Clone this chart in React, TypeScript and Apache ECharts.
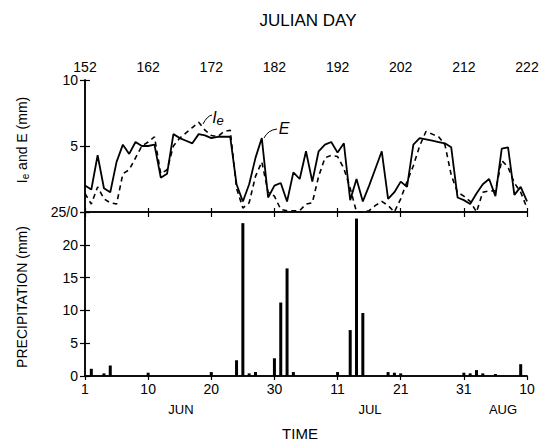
import React, { useEffect, useRef } from "react";
import * as echarts from "echarts";

const JULIAN_START = 152;
const TOP_TICK_LABELS = ["152", "162", "172", "182", "192", "202", "212", "222"];
const BOTTOM_TICK_LABELS = ["1", "10", "20", "30", "11", "21", "31", "10"];
const MONTH_LABELS = ["JUN", "JUL", "AUG"];

// E (solid), days 152..222
const E_VALUES = [
  2.0, 1.7, 4.3, 1.8, 1.5, 3.8, 5.1, 4.4, 5.3, 5.0,
  5.0, 5.1, 2.6, 2.9, 5.9, 5.6, 5.4, 5.2, 5.9, 5.8,
  5.6, 5.7, 5.7, 5.7, 2.1, 0.8, 2.1, 4.1, 5.6, 1.1,
  2.0, 2.2, 0.8, 3.0, 2.5, 4.6, 2.3, 4.6, 5.1, 5.3,
  4.5, 5.2, 0.9, 2.5, 0.8, 2.0, 3.3, 4.6, 1.0, 1.5,
  2.3, 1.9, 5.1, 5.6, 5.5, 5.4, 5.3, 5.2, 4.9, 1.1,
  0.9, 0.6, 1.4, 2.1, 2.5, 1.2, 4.8, 4.9, 1.3, 1.9,
  0.8,
];

// Ie (dashed), days 152..222
const IE_VALUES = [
  1.4, 0.6, 1.9, 1.0, 0.7, 0.6, 2.9, 3.2, 4.1, 5.0,
  5.3, 5.7, 2.9, 3.2, 5.0, 5.6, 6.0, 6.4, 6.8, 6.2,
  5.8, 5.7, 6.1, 6.2, 1.8, 0.3, 0.7, 2.7, 3.8, 1.5,
  1.2, 0.2, 0.1, 0.1, 0.1, 0.6, 0.7, 2.7, 4.1, 4.3,
  4.2, 3.3, 1.8, 0.0, 0.0, 0.1, 0.5, 0.8, 0.5, 0.0,
  1.0, 2.3, 3.5, 5.0, 6.1, 5.9, 5.7, 5.1, 2.8, 1.5,
  1.2, 0.8, 0.0, 1.5, 1.6, 1.6, 3.9, 3.4, 2.2, 1.5,
  0.3,
];

const PRECIP_DAYS = [153, 155, 156, 162, 172, 176, 177, 178, 179, 182, 183, 184, 185, 192, 194, 195, 196, 200, 201, 202, 212, 213, 214, 215, 217, 221];
const PRECIP_VALUES = [1.1, 0.4, 1.6, 0.5, 0.6, 2.4, 23.3, 0.4, 0.6, 2.7, 11.2, 16.4, 0.6, 0.6, 7.0, 24.0, 9.6, 0.6, 0.5, 0.4, 0.5, 0.4, 0.9, 0.4, 0.3, 1.8];

const FONT = "Liberation Sans, Arial, sans-serif";

export default function App() {
  const ref = useRef<HTMLDivElement>(null);

  useEffect(() => {
    if (!ref.current) return;
    const chart = echarts.init(ref.current, undefined, { renderer: "svg" });

    const eData = E_VALUES.map((v, i) => [i, v]);
    const ieData = IE_VALUES.map((v, i) => [i, v]);
    const pData = PRECIP_DAYS.map((d, i) => [d - JULIAN_START, PRECIP_VALUES[i]]);

    const axisLine = { show: true, lineStyle: { color: "#000", width: 1.5 } };
    const labelStyle = { color: "#000", fontSize: 14, fontFamily: FONT };

    const xBase = {
      type: "value" as const,
      min: 0,
      max: 70,
      interval: 10,
      splitLine: { show: false },
      axisLine,
    };

    chart.setOption({
      animation: false,
      backgroundColor: "#fff",
      grid: [
        { left: 85, right: 16, top: 80, height: 132 },
        { left: 85, right: 16, top: 212, height: 164 },
      ],
      xAxis: [
        {
          ...xBase,
          gridIndex: 0,
          position: "top",
          axisTick: { show: true, inside: true, length: 5, lineStyle: { color: "#000", width: 1.2 } },
          axisLabel: {
            ...labelStyle,
            margin: 6,
            formatter: (v: number) => TOP_TICK_LABELS[Math.round(v / 10)] ?? "",
          },
        },
        {
          ...xBase,
          gridIndex: 0,
          position: "bottom",
          axisTick: { show: true, inside: true, length: 4, lineStyle: { color: "#000", width: 1.2 } },
          axisLabel: { show: false },
        },
        {
          ...xBase,
          gridIndex: 1,
          position: "bottom",
          axisTick: { show: false },
          axisLabel: {
            ...labelStyle,
            margin: 6,
            formatter: (v: number) => BOTTOM_TICK_LABELS[Math.round(v / 10)] ?? "",
          },
        },
        {
          ...xBase,
          gridIndex: 1,
          position: "top",
          axisTick: { show: true, inside: true, length: 4, lineStyle: { color: "#000", width: 1.2 } },
          axisLabel: { show: false },
        },
      ],
      yAxis: [
        {
          type: "value",
          gridIndex: 0,
          min: 0,
          max: 10,
          interval: 5,
          position: "left",
          splitLine: { show: false },
          axisLine,
          axisTick: { show: true, inside: true, length: 5, lineStyle: { color: "#000", width: 1.2 } },
          axisLabel: { ...labelStyle, margin: 7, formatter: (v: number) => (v === 0 ? "" : String(v)) },
        },
        {
          type: "value",
          gridIndex: 0,
          min: 0,
          max: 10,
          interval: 5,
          position: "right",
          splitLine: { show: false },
          axisLine,
          axisTick: { show: true, inside: true, length: 5, lineStyle: { color: "#000", width: 1.2 } },
          axisLabel: { show: false },
        },
        {
          type: "value",
          gridIndex: 1,
          min: 0,
          max: 25,
          interval: 5,
          position: "left",
          splitLine: { show: false },
          axisLine,
          axisTick: { show: true, inside: true, length: 5, lineStyle: { color: "#000", width: 1.2 } },
          axisLabel: { ...labelStyle, margin: 7, formatter: (v: number) => (v === 25 ? "25/0" : String(v)) },
        },
        {
          type: "value",
          gridIndex: 1,
          min: 0,
          max: 25,
          interval: 5,
          position: "right",
          splitLine: { show: false },
          axisLine,
          axisTick: { show: true, inside: true, length: 5, lineStyle: { color: "#000", width: 1.2 } },
          axisLabel: { show: false },
        },
      ],
      series: [
        {
          name: "E",
          type: "line",
          xAxisIndex: 1,
          yAxisIndex: 0,
          data: eData,
          symbol: "none",
          lineStyle: { color: "#000", width: 1.8 },
        },
        {
          name: "Ie",
          type: "line",
          xAxisIndex: 1,
          yAxisIndex: 0,
          data: ieData,
          symbol: "none",
          lineStyle: { color: "#000", width: 1.6, type: [5, 4] },
        },
        {
          name: "Precipitation",
          type: "bar",
          xAxisIndex: 2,
          yAxisIndex: 2,
          data: pData,
          barWidth: 3,
          itemStyle: { color: "#000" },
        },
      ],
      graphic: [
        {
          type: "text",
          x: 308,
          y: 20,
          style: { text: "JULIAN DAY", font: `17px ${FONT}`, fill: "#000", align: "center", verticalAlign: "middle" },
        },
        {
          type: "text",
          x: 300,
          y: 433,
          style: { text: "TIME", font: `15px ${FONT}`, fill: "#000", align: "center", verticalAlign: "middle" },
        },
        {
          type: "text",
          x: 181,
          y: 409,
          style: { text: MONTH_LABELS[0], font: `13px ${FONT}`, fill: "#000", align: "center", verticalAlign: "middle" },
        },
        {
          type: "text",
          x: 370,
          y: 409,
          style: { text: MONTH_LABELS[1], font: `13px ${FONT}`, fill: "#000", align: "center", verticalAlign: "middle" },
        },
        {
          type: "text",
          x: 503,
          y: 409,
          style: { text: MONTH_LABELS[2], font: `13px ${FONT}`, fill: "#000", align: "center", verticalAlign: "middle" },
        },
        {
          type: "text",
          x: 22,
          y: 140,
          rotation: Math.PI / 2,
          style: {
            text: "{a|I}{b|e}{a| and E (mm)}",
            align: "center",
            verticalAlign: "middle",
            rich: {
              a: { fontSize: 14, fontFamily: FONT, fill: "#000", color: "#000" },
              b: { fontSize: 10, fontFamily: FONT, fill: "#000", color: "#000", padding: [6, 0, 0, 0] },
            },
          },
        },
        {
          type: "text",
          x: 22,
          y: 297,
          rotation: Math.PI / 2,
          style: { text: "PRECIPITATION (mm)", font: `14px ${FONT}`, fill: "#000", align: "center", verticalAlign: "middle" },
        },
        {
          type: "text",
          x: 284,
          y: 128,
          style: { text: "E", font: `italic 16px ${FONT}`, fill: "#000", align: "center", verticalAlign: "middle" },
        },
        {
          type: "text",
          x: 218,
          y: 117,
          style: {
            text: "{a|I}{b|e}",
            align: "center",
            verticalAlign: "middle",
            rich: {
              a: { fontSize: 16, fontStyle: "italic", fontFamily: FONT, fill: "#000", color: "#000" },
              b: { fontSize: 13, fontStyle: "italic", fontFamily: FONT, fill: "#000", color: "#000", padding: [6, 0, 0, 0] },
            },
          },
        },
        {
          type: "bezierCurve",
          shape: { x1: 264, y1: 138, x2: 277, y2: 129, cpx1: 268, cpy1: 130 },
          style: { stroke: "#000", lineWidth: 1, fill: "none" },
        },
        {
          type: "bezierCurve",
          shape: { x1: 203, y1: 124, x2: 212, y2: 115, cpx1: 207, cpy1: 116 },
          style: { stroke: "#000", lineWidth: 1, fill: "none" },
        },
      ],
    });

    return () => chart.dispose();
  }, []);

  return (
    <div
      ref={ref}
      style={{ position: "fixed", left: 0, top: 0, width: 543, height: 443, background: "#fff" }}
    />
  );
}
